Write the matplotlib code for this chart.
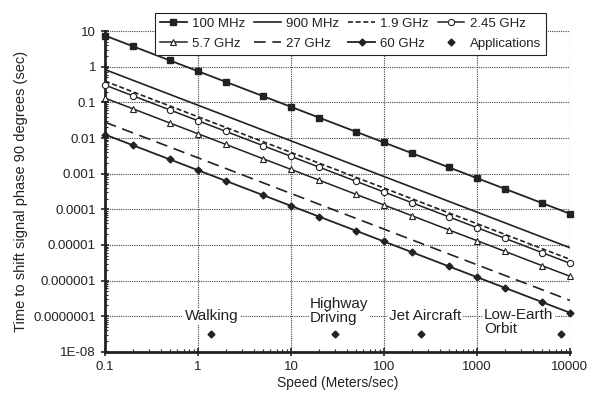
import matplotlib
matplotlib.use("Agg")
import matplotlib.pyplot as plt
from matplotlib.ticker import FixedLocator, FixedFormatter, LogLocator, NullFormatter

plt.rcParams["font.family"] = ["Liberation Sans", "DejaVu Sans"]
plt.rcParams["font.size"] = 9

# speeds (m/s) where the marked series have points
speeds = [0.1, 0.2, 0.5, 1, 2, 5, 10, 20, 50, 100, 200, 500, 1000, 2000, 5000, 10000]

t_100mhz = [7.5, 3.75, 1.5, 0.75, 0.375, 0.15, 0.075, 0.0375, 0.015, 0.0075,
            0.00375, 0.0015, 0.00075, 0.000375, 0.00015, 0.000075]
t_245ghz = [0.306, 0.153, 0.0612, 0.0306, 0.0153, 0.00612, 0.00306, 0.00153,
            0.000612, 0.000306, 0.000153, 6.12e-5, 3.06e-5, 1.53e-5, 6.12e-6, 3.06e-6]
t_57ghz = [0.132, 0.066, 0.0263, 0.0132, 0.0066, 0.00263, 0.00132, 0.00066,
           0.000263, 0.000132, 6.6e-5, 2.63e-5, 1.32e-5, 6.6e-6, 2.63e-6, 1.32e-6]
t_60ghz = [0.0125, 0.00625, 0.0025, 0.00125, 0.000625, 0.00025, 0.000125, 6.25e-5,
           2.5e-5, 1.25e-5, 6.25e-6, 2.5e-6, 1.25e-6, 6.25e-7, 2.5e-7, 1.25e-7]

# unmarked lines, just the ends
speeds_ends = [0.1, 10000]
t_900mhz = [0.833, 8.33e-6]
t_19ghz = [0.395, 3.95e-6]
t_27ghz = [0.0278, 2.78e-7]

# applications
app_speeds = [1.38, 30, 250, 8000]
app_times = [3.2e-8, 3.2e-8, 3.2e-8, 3.2e-8]

yticks = [1e-8, 1e-7, 1e-6, 1e-5, 1e-4, 1e-3, 1e-2, 1e-1, 1, 10]
ylabels = ["1E-08", "0.0000001", "0.000001", "0.00001", "0.0001", "0.001",
           "0.01", "0.1", "1", "10"]
xticks = [0.1, 1, 10, 100, 1000, 10000]
xlabels = ["0.1", "1", "10", "100", "1000", "10000"]

ink = "#222222"

fig = plt.figure(figsize=(5.9, 3.94), dpi=100)
ax = fig.add_axes([0.178, 0.107, 0.788, 0.814])
ax.set_xscale("log")
ax.set_yscale("log")
ax.set_xlim(0.1, 10000)
ax.set_ylim(1e-8, 10)

h100, = ax.plot(speeds, t_100mhz, color=ink, lw=1.3, marker="s", ms=5,
                mfc=ink, mec=ink, label="100 MHz", clip_on=False, zorder=4)
h900, = ax.plot(speeds_ends, t_900mhz, color=ink, lw=1.2, label="900 MHz", zorder=4)
h19, = ax.plot(speeds_ends, t_19ghz, color=ink, lw=1.2, ls=(0, (3, 1.6)),
               label="1.9 GHz", zorder=4)
h245, = ax.plot(speeds, t_245ghz, color=ink, lw=1.1, marker="o", ms=4.5,
                mfc="white", mec=ink, mew=0.8, label="2.45 GHz", clip_on=False, zorder=4)
h57, = ax.plot(speeds, t_57ghz, color=ink, lw=1.1, marker="^", ms=5,
               mfc="white", mec=ink, mew=0.8, label="5.7 GHz", clip_on=False, zorder=4)
h27, = ax.plot(speeds_ends, t_27ghz, color=ink, lw=1.2, ls=(0, (7, 4)),
               label="27 GHz", zorder=4)
h60, = ax.plot(speeds, t_60ghz, color=ink, lw=1.3, marker="D", ms=3.5,
               mfc=ink, mec=ink, label="60 GHz", clip_on=False, zorder=4)
happ, = ax.plot(app_speeds, app_times, ls="none", marker="D", ms=3.5,
                color=ink, label="Applications", zorder=4)

box = dict(facecolor="white", edgecolor="none", pad=1)
ax.text(1.4, 1e-7, "Walking", ha="center", va="center", bbox=box, zorder=3,
        fontsize=11, color=ink)
ax.text(16, 1.37e-7, "Highway\nDriving", ha="left", va="center",
        multialignment="left", bbox=box, zorder=3, linespacing=1.0,
        fontsize=11, color=ink)
ax.text(280, 1e-7, "Jet Aircraft", ha="center", va="center", bbox=box, zorder=3,
        fontsize=11, color=ink)
ax.text(1190, 1.75e-7, "Low-Earth\nOrbit", ha="left", va="top",
        multialignment="left", bbox=box, zorder=3, linespacing=1.05,
        fontsize=11, color=ink)

ax.grid(True, which="major", color="#444444", ls=(0, (1, 1)), lw=0.8)
ax.set_axisbelow(True)

ax.yaxis.set_major_locator(FixedLocator(yticks))
ax.yaxis.set_major_formatter(FixedFormatter(ylabels))
ax.xaxis.set_major_locator(FixedLocator(xticks))
ax.xaxis.set_major_formatter(FixedFormatter(xlabels))
ax.xaxis.set_minor_locator(LogLocator(base=10, subs=range(2, 10), numticks=20))
ax.yaxis.set_minor_locator(LogLocator(base=10, subs=range(2, 10), numticks=20))
ax.xaxis.set_minor_formatter(NullFormatter())
ax.yaxis.set_minor_formatter(NullFormatter())

for side in ["top", "right"]:
    ax.spines[side].set_visible(False)
for side in ["left", "bottom"]:
    ax.spines[side].set_linewidth(2)
    ax.spines[side].set_color(ink)
ax.tick_params(which="major", direction="inout", length=6, width=1.2, color=ink,
               labelsize=9.5, labelcolor=ink)
ax.tick_params(which="minor", direction="in", length=2.5, width=0.8, color=ink)

ax.set_xlabel("Speed (Meters/sec)", fontsize=10, color=ink, labelpad=2)
ax.set_ylabel("Time to shift signal phase 90 degrees (sec)", fontsize=10.5,
              color=ink, labelpad=4)

# matplotlib fills legend columns first, so order for row-wise reading
handles = [h100, h57, h900, h27, h19, h60, h245, happ]
leg = fig.legend(handles=handles, labels=[h.get_label() for h in handles],
                 ncol=4, loc="upper center", bbox_to_anchor=(0.594, 0.985),
                 fontsize=9.5, frameon=True, fancybox=False, framealpha=1,
                 edgecolor=ink, handlelength=2.0, handletextpad=0.4,
                 columnspacing=0.7, borderpad=0.4, labelspacing=0.55)
leg.get_frame().set_linewidth(0.8)
for t in leg.get_texts():
    t.set_color(ink)

fig.savefig("out.png", dpi=100)
